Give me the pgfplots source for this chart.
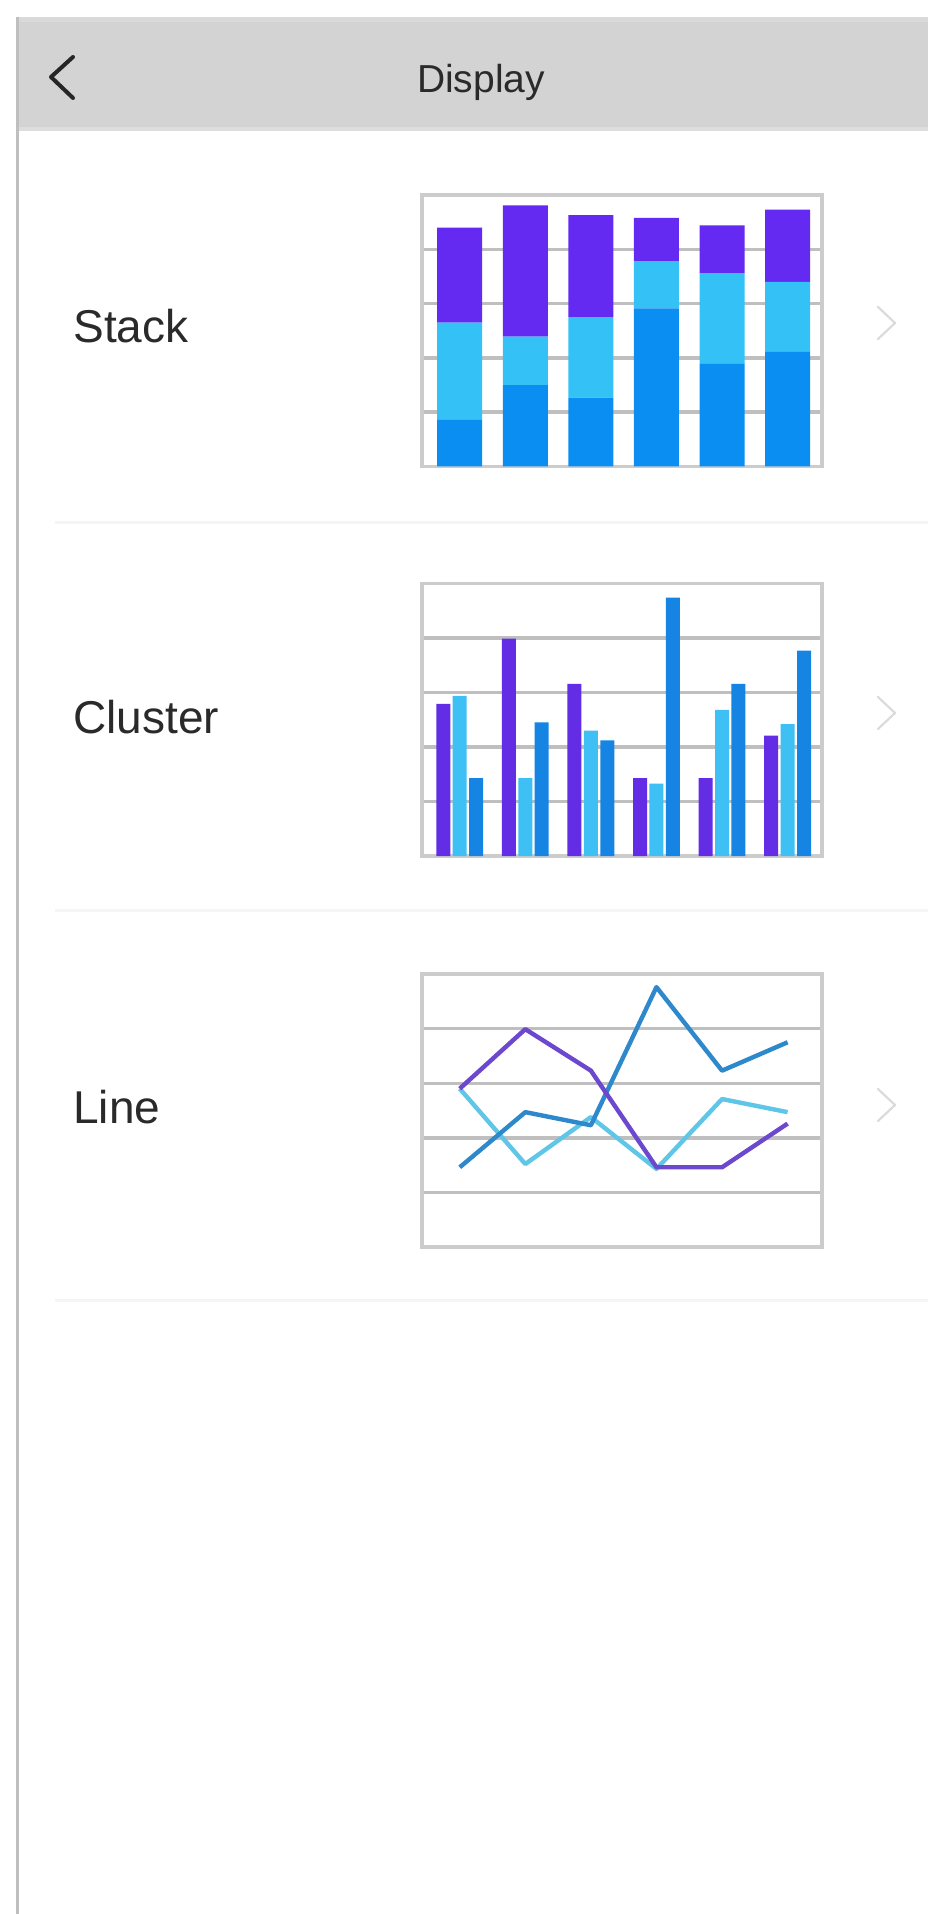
\documentclass[border=0pt]{standalone}
\usepackage{fontspec}
\setmainfont{Liberation Sans}
\usepackage{pgfplots}
\pgfplotsset{compat=1.18}
\definecolor{spurple}{RGB}{100,42,242}
\definecolor{slight}{RGB}{52,194,246}
\definecolor{sdark}{RGB}{10,142,242}
\definecolor{cpurple}{RGB}{98,45,228}
\definecolor{clight}{RGB}{62,192,244}
\definecolor{cdark}{RGB}{22,132,226}
\definecolor{lpurple}{RGB}{108,72,206}
\definecolor{ldark}{RGB}{46,136,204}
\definecolor{llight}{RGB}{96,198,232}
\definecolor{headgray}{RGB}{211,211,211}
\definecolor{txt}{RGB}{42,42,42}
\pgfplotsset{minichart/.style={
  scale only axis, width=200pt,
  xmin=-0.58, xmax=5.52, ymin=0, ymax=5,
  xtick=\empty, ytick={1,2,3,4}, yticklabels={},
  ymajorgrids, major grid style={draw=gray!50, line width=1.7pt},
  major tick length=0pt,
  axis line style={draw=gray!40, line width=1.8pt},
  anchor=south west}}
\begin{document}
\begin{tikzpicture}
\useasboundingbox (0,0) rectangle (464pt,-957pt);
\fill[white] (0,0) rectangle (464pt,-957pt);
\begin{scope}[x=0.5pt,y=-0.5pt]
  % header
  \fill[headgray] (17,17) rectangle (928,130);
  \fill[gray!30] (17,17) rectangle (928,22);
  \fill[gray!27] (17,127) rectangle (928,131);
  \draw[black!85, line width=2pt, line cap=round, line join=round] (73,57) -- (51,77) -- (73,98);
  \node[anchor=base, inner sep=0, text=txt] at (481,93) {\fontsize{19.5}{22}\selectfont Display};
  % left edge
  \fill[gray!50] (16,17) rectangle (19,1914);
  % separators
  \foreach \yy in {523,910,1300} {\fill[gray!8] (55,\yy-1.5) rectangle (928,\yy+1.5);}
  % row labels
  \node[anchor=base west, inner sep=0, text=txt] at (73,343) {\fontsize{23}{26}\selectfont Stack};
  \node[anchor=base west, inner sep=0, text=txt] at (73,733) {\fontsize{23}{26}\selectfont Cluster};
  \node[anchor=base west, inner sep=0, text=txt] at (73,1123) {\fontsize{23}{26}\selectfont Line};
  % right chevrons
  \foreach \yc in {323,713,1105} {\draw[gray!28, line width=1.1pt, line cap=round, line join=round] (878,\yc-16) -- (895,\yc) -- (878,\yc+16);}
\end{scope}

% Stack chart
\begin{axis}[minichart, at={(210.85pt,-233.25pt)}, height=135.75pt, ybar stacked, bar width=22.5pt]
\addplot[fill=sdark, draw=none] coordinates {(0,0.86) (1,1.50) (2,1.27) (3,2.91) (4,1.90) (5,2.11)};
\addplot[fill=slight, draw=none] coordinates {(0,1.79) (1,0.89) (2,1.48) (3,0.87) (4,1.66) (5,1.29)};
\addplot[fill=spurple, draw=none] coordinates {(0,1.75) (1,2.42) (2,1.88) (3,0.80) (4,0.88) (5,1.33)};
\end{axis}

% Cluster chart
\begin{axis}[minichart, at={(210.85pt,-428pt)}, height=136.25pt, ybar, bar width=7pt]
\addplot[fill=cpurple, draw=none, bar shift=-8.2pt] coordinates {(0,2.79) (1,3.99) (2,3.16) (3,1.43) (4,1.43) (5,2.21)};
\addplot[fill=clight, draw=none, bar shift=0pt] coordinates {(0,2.94) (1,1.43) (2,2.30) (3,1.33) (4,2.68) (5,2.42)};
\addplot[fill=cdark, draw=none, bar shift=8.2pt] coordinates {(0,1.43) (1,2.45) (2,2.12) (3,4.74) (4,3.16) (5,3.77)};
\end{axis}

% Line chart
\begin{axis}[minichart, at={(210.85pt,-623.5pt)}, height=136.5pt]
\addplot[llight, line width=2.2pt, mark=none, line join=round] coordinates {(0,2.90) (1,1.52) (2,2.38) (3,1.43) (4,2.71) (5,2.47)};
\addplot[ldark, line width=2.2pt, mark=none, line join=round] coordinates {(0,1.46) (1,2.47) (2,2.23) (3,4.76) (4,3.23) (5,3.75)};
\addplot[lpurple, line width=2.2pt, mark=none, line join=round] coordinates {(0,2.90) (1,3.99) (2,3.23) (3,1.46) (4,1.46) (5,2.26)};
\end{axis}
\end{tikzpicture}
\end{document}
